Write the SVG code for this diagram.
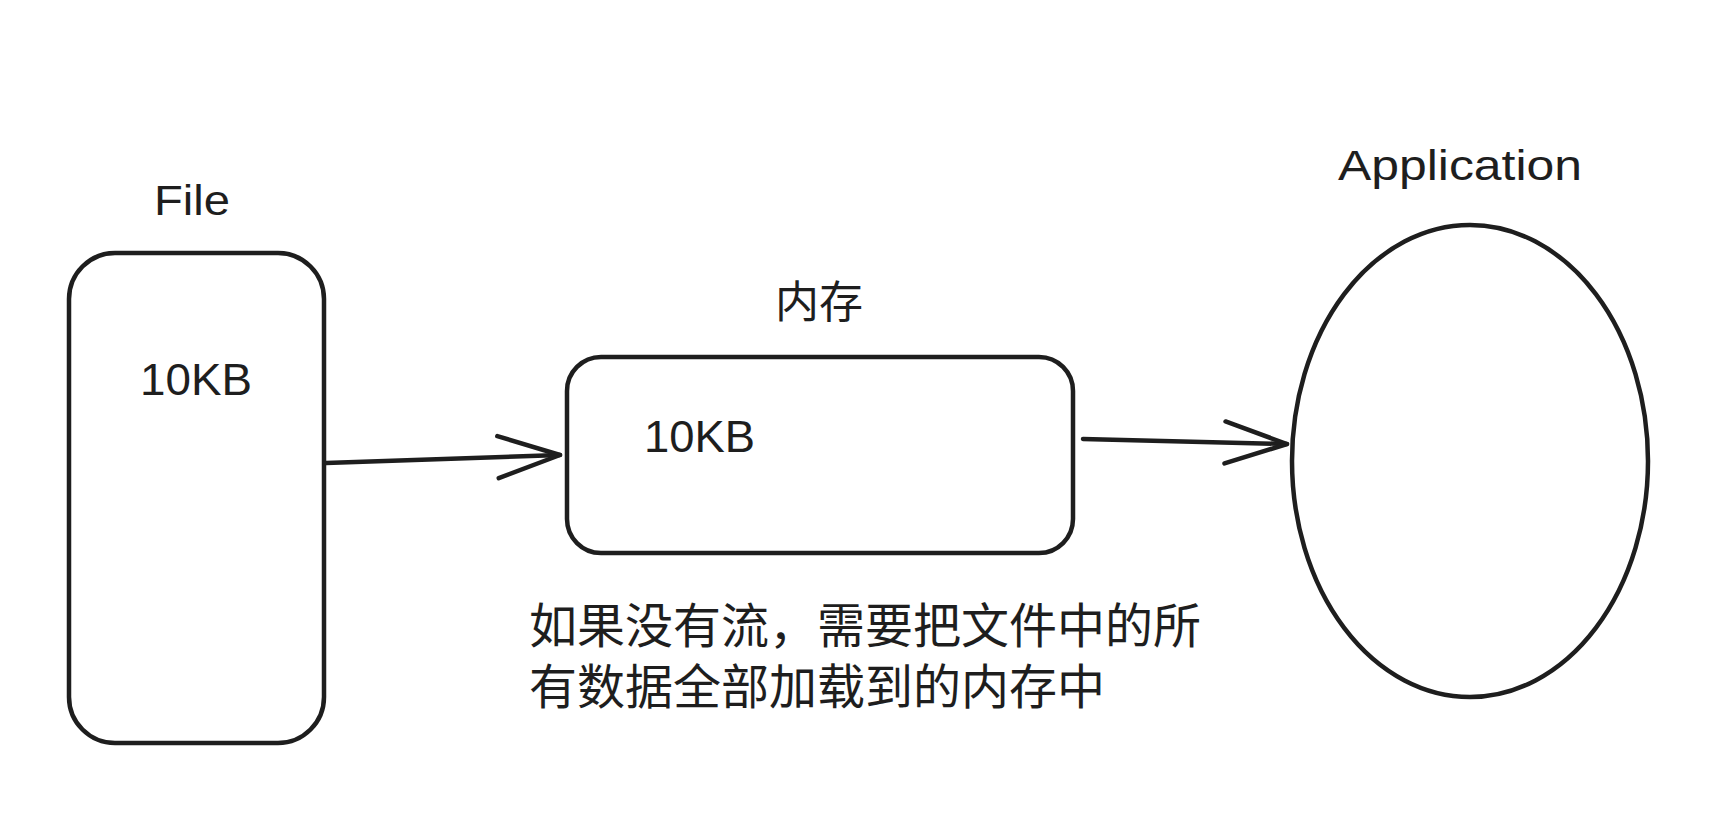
<svg xmlns="http://www.w3.org/2000/svg" width="1720" height="820" viewBox="0 0 1720 820">
<style>
.shape{fill:#ffffff;stroke:#1e1e1e;stroke-width:4.5;stroke-linecap:round;stroke-linejoin:round}
.conn{fill:none;stroke:#1e1e1e;stroke-width:4.5;stroke-linecap:round}
.hand{font-family:"Liberation Sans","Noto Sans",sans-serif;fill:#1e1e1e}
.cjk{font-family:"Liberation Sans","Noto Sans CJK SC",sans-serif;fill:#1e1e1e}
</style>
<defs>
<marker id="arrow" markerUnits="userSpaceOnUse" markerWidth="80" markerHeight="60" refX="0" refY="0" viewBox="-70 -30 80 60" orient="auto" overflow="visible">
<path d="M-62,-21 L0,0 L-62,21" fill="none" stroke="#1e1e1e" stroke-width="4.5" stroke-linecap="round" stroke-linejoin="round"/>
</marker>
</defs>
<rect width="1720" height="820" fill="#ffffff"/>
<g id="file">
<text class="hand" x="192" y="215" font-size="42" text-anchor="middle" textLength="76" lengthAdjust="spacingAndGlyphs">File</text>
<rect class="shape" x="69" y="253" width="255" height="490" rx="46" ry="46"/>
<text class="hand" x="140" y="395" font-size="44" textLength="112" lengthAdjust="spacingAndGlyphs">10KB</text>
</g>
<g id="memory">
<text class="cjk" x="819" y="318" font-size="44" text-anchor="middle">内存</text>
<rect class="shape" x="567" y="357" width="506" height="196" rx="34" ry="34"/>
<text class="hand" x="644" y="452" font-size="44" textLength="111" lengthAdjust="spacingAndGlyphs">10KB</text>
</g>
<g id="application">
<text class="hand" x="1460" y="180" font-size="42" text-anchor="middle" textLength="244" lengthAdjust="spacingAndGlyphs">Application</text>
<ellipse class="shape" cx="1470" cy="461" rx="178" ry="236"/>
</g>
<g id="note">
<text class="cjk" font-size="48"><tspan x="529" y="643">如果没有流，需要把文件中的所</tspan><tspan x="529" y="704">有数据全部加载到的内存中</tspan></text>
</g>
<g id="connectors">
<path class="conn" d="M326,463 L560,455" marker-end="url(#arrow)"/>
<path class="conn" d="M1083,439 L1287,444" marker-end="url(#arrow)"/>
</g>
</svg>
